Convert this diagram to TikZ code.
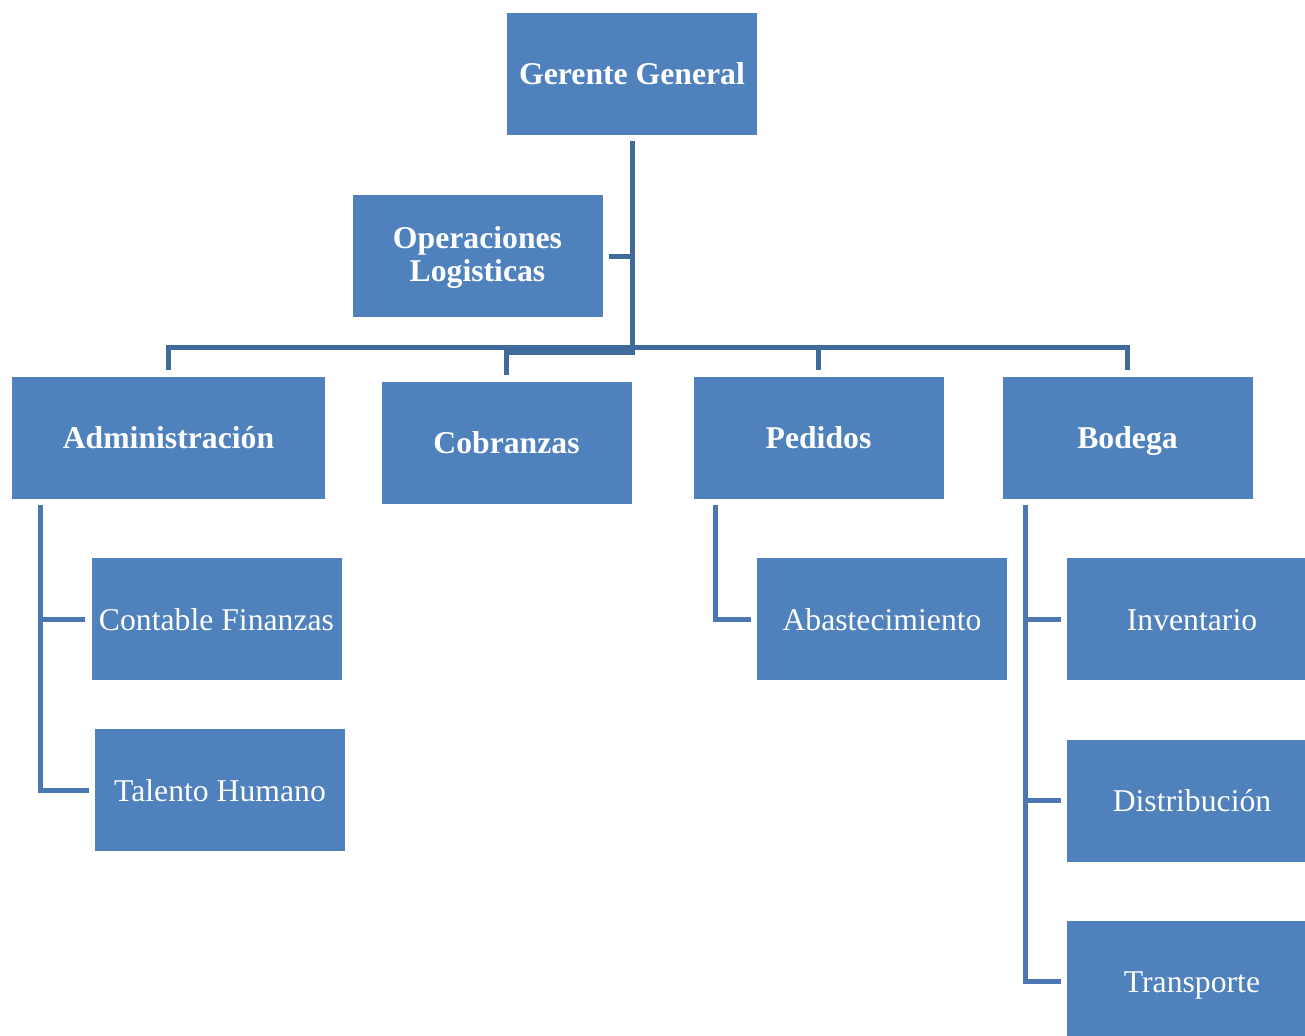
\documentclass[tikz,border=0pt]{standalone}
\usepackage{fontspec}
\setmainfont{Liberation Serif}
\usepackage{xcolor}
\definecolor{boxblue}{HTML}{4F81BD}
\definecolor{linetop}{HTML}{3F6A9C}
\definecolor{linelow}{HTML}{4A77B1}

\begin{document}
\begin{tikzpicture}[x=1pt,y=-1pt,
  card/.style={fill=boxblue,draw=none,inner sep=0pt,minimum width=250pt,minimum height=122pt,
    text=white,align=center,font=\fontsize{31.7}{33}\selectfont},
  unit/.style={card,text height=30pt,text depth=8pt},
  head/.style={unit,font=\fontsize{31.7}{33}\selectfont\bfseries},
  trunk/.style={linetop,line width=5pt},
  branch/.style={linelow,line width=5pt}]
\useasboundingbox (0,0) rectangle (1305,1035);
\clip (0,0) rectangle (1305,1035);
% boxes
\node[head] (ger) at (632,74) {Gerente General};
\node[card,font=\fontsize{31.7}{33}\selectfont\bfseries,text depth=3pt] (ope) at (477.5,256) {Operaciones\\Logisticas};
\node[head,minimum width=313pt] (adm) at (168.5,437.5) {Administración};
\node[head] (cob) at (506.5,442.5) {Cobranzas};
\node[head] (ped) at (818.5,437.5) {Pedidos};
\node[head] (bod) at (1127.5,437.5) {Bodega};
\node[unit] (con) at (216.5,619) {Contable Finanzas};
\node[unit] (tal) at (220,790) {Talento Humano};
\node[unit] (aba) at (882,619) {Abastecimiento};
\node[unit] (inv) at (1192,619) {Inventario};
\node[unit] (dis) at (1192,800.5) {Distribución};
\node[unit] (tra) at (1192,981.5) {Transporte};
% upper connectors
\coordinate (bus) at (0,347);
\coordinate (bend) at (0,352);
\draw[trunk] ([yshift=-6pt]ger.south) -- (ger.south |- bend) -| ([yshift=6pt]cob.north);
\draw[trunk] ([xshift=6pt]ope.east) -- (ger.south |- ope.east);
\draw[trunk] ([yshift=6pt]adm.north) -- (adm.north |- bus) -- (bod.north |- bus) -- ([yshift=6pt]bod.north);
\draw[trunk] (ped.north |- bus) -- ([yshift=6pt]ped.north);
% lower connectors
\draw[branch] ([shift={(29pt,-6pt)}]adm.south west) |- ([xshift=-6pt]tal.west);
\draw[branch] ([xshift=-6pt]con.west) -- ++(-45,0);
\draw[branch] ([shift={(22pt,-6pt)}]ped.south west) |- ([xshift=-6pt]aba.west);
\draw[branch] ([shift={(23pt,-6pt)}]bod.south west) |- ([xshift=-6pt]tra.west);
\draw[branch] ([xshift=-6pt]inv.west) -- ++(-35,0);
\draw[branch] ([xshift=-6pt]dis.west) -- ++(-35,0);
\end{tikzpicture}
\end{document}
